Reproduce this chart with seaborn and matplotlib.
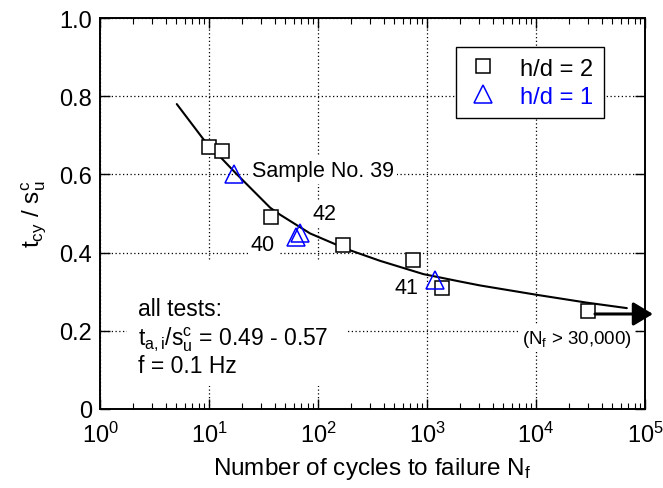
import numpy as np
import pandas as pd
import matplotlib
matplotlib.use("Agg")
import matplotlib.pyplot as plt
import seaborn as sns
from matplotlib.lines import Line2D
from matplotlib.patches import Rectangle
from matplotlib.ticker import LogLocator, LogFormatterMathtext, MultipleLocator, NullLocator, FuncFormatter

# ---- data ----
n_sq = [10, 13.2, 37, 170, 745, 1373, 30000]
y_sq = [0.67, 0.66, 0.49, 0.42, 0.38, 0.31, 0.25]
n_tri = [17, 63, 68, 1183]
y_tri = [0.60, 0.44, 0.45, 0.33]
curve_n = [5.05, 8.87, 17.3, 36.3, 44.8, 84.5, 183, 370, 925, 2009, 3063, 10150, 29200, 68000]
curve_y = [0.780, 0.690, 0.605, 0.515, 0.497, 0.449, 0.409, 0.379, 0.345, 0.326, 0.316, 0.292, 0.272, 0.258]
arrow_n = [34700, 118000]
arrow_y = [0.243, 0.243]
legend_labels = ["h/d = 2", "h/d = 1"]

sns.set_theme(style="ticks")
plt.rcParams["font.family"] = ["Liberation Sans", "DejaVu Sans"]
plt.rcParams["mathtext.fontset"] = "custom"
plt.rcParams["mathtext.rm"] = "Liberation Sans"
plt.rcParams["mathtext.it"] = "Liberation Sans"
plt.rcParams["mathtext.bf"] = "Liberation Sans:bold"
for k in ["text.color", "axes.labelcolor", "xtick.color", "ytick.color", "axes.edgecolor"]:
    plt.rcParams[k] = "black"

FS = 17
fig = plt.figure(figsize=(6.63, 4.89), dpi=100)
ax = fig.add_axes([0.151, 0.1616, 0.822, 0.7994])

df_c = pd.DataFrame({"N": curve_n, "y": curve_y})
sns.lineplot(data=df_c, x="N", y="y", ax=ax, color="black", linewidth=1.5,
             estimator=None, sort=False, zorder=3)

df_s = pd.DataFrame({"N": n_sq, "y": y_sq})
sns.lineplot(data=df_s, x="N", y="y", ax=ax, linestyle="none", marker="s",
             markersize=10, markerfacecolor="white", markeredgecolor="black",
             markeredgewidth=1.1, estimator=None, sort=False, zorder=4)
df_t = pd.DataFrame({"N": n_tri, "y": y_tri})
sns.lineplot(data=df_t, x="N", y="y", ax=ax, linestyle="none", marker="^",
             markersize=13, markerfacecolor="none", markeredgecolor="blue",
             markeredgewidth=1.1, estimator=None, sort=False, zorder=5)

ax.annotate("", xy=(arrow_n[1], arrow_y[1]), xytext=(arrow_n[0], arrow_y[0]),
            xycoords="data", annotation_clip=False,
            arrowprops=dict(arrowstyle="-|>,head_length=1.0,head_width=0.6",
                            mutation_scale=12, color="black", lw=2.2,
                            shrinkA=0, shrinkB=0),
            zorder=6)

ax.set_xscale("log")
ax.set_xlim(1, 1e5)
ax.set_ylim(0, 1.0)
ax.xaxis.set_major_locator(LogLocator(base=10, numticks=10))
ax.xaxis.set_minor_locator(LogLocator(base=10, subs=np.arange(2, 10), numticks=20))
ax.xaxis.set_major_formatter(LogFormatterMathtext())
ax.yaxis.set_major_locator(MultipleLocator(0.2))
ax.yaxis.set_minor_locator(NullLocator())
ax.yaxis.set_major_formatter(FuncFormatter(lambda v, p: "0" if abs(v) < 1e-9 else f"{v:.1f}"))

ax.tick_params(which="both", direction="in", top=True, right=True, labelsize=FS, colors="black")
ax.tick_params(axis="x", which="major", length=7, width=1.0, pad=9)
ax.tick_params(axis="y", which="major", length=7, width=1.0, pad=6)
ax.tick_params(which="minor", length=4, width=0.8)
for s in ax.spines.values():
    s.set_linewidth(1.4)
    s.set_color("black")
ax.grid(True, which="major", linestyle=(0, (1, 2)), linewidth=0.9, color="black")
ax.set_axisbelow(True)

ax.set_xlabel(r"Number of cycles to failure N$_\mathregular{f}$", fontsize=FS + 0.5, labelpad=6)
ax.set_ylabel(r"t$_\mathregular{cy}$ / s$_\mathregular{u}^\mathregular{c}$", fontsize=FS + 0.5, labelpad=8)

bb = dict(facecolor="white", edgecolor="none", pad=2)
AF = 15.5
ax.text(24.8, 0.61, "Sample No. 39", fontsize=AF, va="center", ha="left", bbox=bb, zorder=2)
ax.text(88, 0.50, "42", fontsize=AF, va="center", ha="left", bbox=bb, zorder=2)
ax.text(40, 0.42, "40", fontsize=AF, va="center", ha="right", bbox=bb, zorder=2)
ax.text(640, 0.31, "41", fontsize=AF, va="center", ha="center", bbox=bb, zorder=2)
ax.text(23800, 0.18, r"(N$_\mathregular{f}$ > 30,000)", fontsize=13.5, va="center",
        ha="center", bbox=bb, zorder=2)

# white panel behind the test-conditions note
ax.add_patch(Rectangle((0.05, 0.059), 0.403, 0.318, transform=ax.transAxes,
                       facecolor="white", edgecolor="none", zorder=1.5))
TF = 16.5
ax.text(0.07, 0.240, "all tests:", transform=ax.transAxes, fontsize=TF,
        va="baseline", ha="left", zorder=2)
ax.text(0.07, 0.166, r"t$_\mathregular{a,i}$/s$_\mathregular{u}^\mathregular{c}$ = 0.49 - 0.57",
        transform=ax.transAxes, fontsize=TF, va="baseline", ha="left", zorder=2)
ax.text(0.07, 0.095, "f = 0.1 Hz", transform=ax.transAxes, fontsize=TF,
        va="baseline", ha="left", zorder=2)

handles = [Line2D([], [], linestyle="none", marker="s", markersize=10, markerfacecolor="none",
                  markeredgecolor="black", markeredgewidth=1.1),
           Line2D([], [], linestyle="none", marker="^", markersize=13, markerfacecolor="none",
                  markeredgecolor="blue", markeredgewidth=1.1)]
leg = ax.legend(handles, legend_labels, loc="upper right", bbox_to_anchor=(0.925, 0.926),
                fontsize=FS, frameon=True, fancybox=False, edgecolor="black",
                framealpha=1, handlelength=1.4, handletextpad=0.9, borderpad=0.45,
                labelspacing=0.25, borderaxespad=0, labelcolor=["black", "blue"])
leg.get_frame().set_linewidth(1.0)

fig.savefig("out.png", dpi=100)
